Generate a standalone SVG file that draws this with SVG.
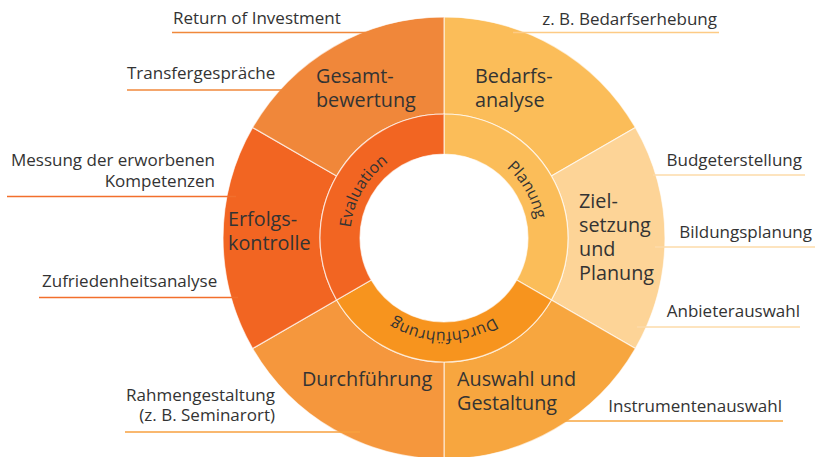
<svg xmlns="http://www.w3.org/2000/svg" width="815" height="457" viewBox="0 0 815 457">
  <defs>
    <style>
      .seg { stroke: #ffffff; stroke-opacity: 0.65; stroke-width: 1.2; stroke-linejoin: round; }
      .big { font-family: "Open Sans", "Noto Sans", "Liberation Sans", sans-serif; font-size: 19.8px; fill: #333333; }
      .note { font-family: "Open Sans", "Noto Sans", "Liberation Sans", sans-serif; font-size: 17px; fill: #333333; }
      .arc { font-family: "Open Sans", "Noto Sans", "Liberation Sans", sans-serif; font-size: 16px; fill: #333333; }
      .lead { fill: none; stroke-width: 1.4; }
    </style>
    <path id="ringPath" d="M362.59,285 A94,94 0 0 1 525.41,191 A94,94 0 0 1 362.59,285"/>
  </defs>
  <rect width="815" height="457" fill="#ffffff"/>

  <!-- outer ring -->
  <g id="bedarfsanalyse">
    <path class="seg" fill="#FBBD59" d="M444,17 A221,221 0 0 1 635.39,127.5 L551.39,176 A124,124 0 0 0 444,114 Z"/>
    <text class="big" x="475" y="83">Bedarfs-</text>
    <text class="big" x="475" y="107">analyse</text>
  </g>
  <g id="zielsetzung">
    <path class="seg" fill="#FDD497" d="M635.39,127.5 A221,221 0 0 1 635.39,348.5 L551.39,300 A124,124 0 0 0 551.39,176 Z"/>
    <text class="big" x="579" y="208">Ziel-</text>
    <text class="big" x="579" y="232">setzung</text>
    <text class="big" x="579" y="256">und</text>
    <text class="big" x="579" y="280">Planung</text>
  </g>
  <g id="auswahl">
    <path class="seg" fill="#F7A63F" d="M635.39,348.5 A221,221 0 0 1 444,459 L444,362 A124,124 0 0 0 551.39,300 Z"/>
    <text class="big" x="457" y="386">Auswahl und</text>
    <text class="big" x="457" y="410">Gestaltung</text>
  </g>
  <g id="durchfuehrung">
    <path class="seg" fill="#F5973D" d="M444,459 A221,221 0 0 1 252.61,348.5 L336.61,300 A124,124 0 0 0 444,362 Z"/>
    <text class="big" x="302" y="386">Durchführung</text>
  </g>
  <g id="erfolgskontrolle">
    <path class="seg" fill="#F26522" d="M252.61,348.5 A221,221 0 0 1 252.61,127.5 L336.61,176 A124,124 0 0 0 336.61,300 Z"/>
    <text class="big" x="228" y="226">Erfolgs-</text>
    <text class="big" x="228" y="250">kontrolle</text>
  </g>
  <g id="gesamtbewertung">
    <path class="seg" fill="#F0873A" d="M252.61,127.5 A221,221 0 0 1 444,17 L444,114 A124,124 0 0 0 336.61,176 Z"/>
    <text class="big" x="316" y="83">Gesamt-</text>
    <text class="big" x="316" y="107">bewertung</text>
  </g>

  <!-- inner ring -->
  <g id="planung">
    <path class="seg" fill="#FBBD59" d="M444,114 A124,124 0 0 1 551.39,300 L516.75,280 A84,84 0 0 0 444,154 Z"/>
    <text class="arc" text-anchor="middle"><textPath href="#ringPath" startOffset="50%">Planung</textPath></text>
  </g>
  <g id="durchfuehrung-phase">
    <path class="seg" fill="#F7941E" d="M551.39,300 A124,124 0 0 1 336.61,300 L371.25,280 A84,84 0 0 0 516.75,280 Z"/>
    <text class="arc" text-anchor="middle"><textPath href="#ringPath" startOffset="83.333%">Durchführung</textPath></text>
  </g>
  <g id="evaluation">
    <path class="seg" fill="#F26522" d="M336.61,300 A124,124 0 0 1 444,114 L444,154 A84,84 0 0 0 371.25,280 Z"/>
    <text class="arc" text-anchor="middle"><textPath href="#ringPath" startOffset="16.667%">Evaluation</textPath></text>
  </g>

  <!-- connectors -->
  <g id="connectors">
    <line class="lead" x1="172" y1="32.5" x2="372" y2="32.5" stroke="#F0883B"/>
    <line class="lead" x1="127" y1="90" x2="284" y2="90" stroke="#F0883B"/>
    <line class="lead" x1="7" y1="196.5" x2="236" y2="196.5" stroke="#F26F2C"/>
    <line class="lead" x1="39" y1="297.5" x2="238" y2="297.5" stroke="#F26F2C"/>
    <line class="lead" x1="125" y1="432" x2="360" y2="432" stroke="#F7A13F"/>
    <line class="lead" x1="513" y1="32.5" x2="719" y2="32.5" stroke="#FDCB85"/>
    <line class="lead" x1="653" y1="175" x2="805" y2="175" stroke="#FDDBAA"/>
    <line class="lead" x1="655" y1="247" x2="815" y2="247" stroke="#FDDBAA"/>
    <line class="lead" x1="637" y1="327" x2="800" y2="327" stroke="#FDDBAA"/>
    <line class="lead" x1="550" y1="421" x2="783" y2="421" stroke="#F7A63F"/>
  </g>

  <!-- annotations -->
  <g id="note-return"><text class="note" x="173" y="24">Return of Investment</text></g>
  <g id="note-transfer"><text class="note" x="127" y="79">Transfergespräche</text></g>
  <g id="note-messung">
    <text class="note" x="215" y="166" text-anchor="end">Messung der erworbenen</text>
    <text class="note" x="215" y="187" text-anchor="end">Kompetenzen</text>
  </g>
  <g id="note-zufriedenheit"><text class="note" x="42" y="287">Zufriedenheitsanalyse</text></g>
  <g id="note-rahmen">
    <text class="note" x="275" y="401" text-anchor="end">Rahmengestaltung</text>
    <text class="note" x="275" y="421" text-anchor="end">(z. B. Seminarort)</text>
  </g>
  <g id="note-bedarf"><text class="note" x="717" y="25" text-anchor="end">z. B. Bedarfserhebung</text></g>
  <g id="note-budget"><text class="note" x="802" y="166" text-anchor="end">Budgeterstellung</text></g>
  <g id="note-bildung"><text class="note" x="812" y="238" text-anchor="end">Bildungsplanung</text></g>
  <g id="note-anbieter"><text class="note" x="800" y="317" text-anchor="end">Anbieterauswahl</text></g>
  <g id="note-instrumente"><text class="note" x="782" y="412" text-anchor="end">Instrumentenauswahl</text></g>
</svg>
